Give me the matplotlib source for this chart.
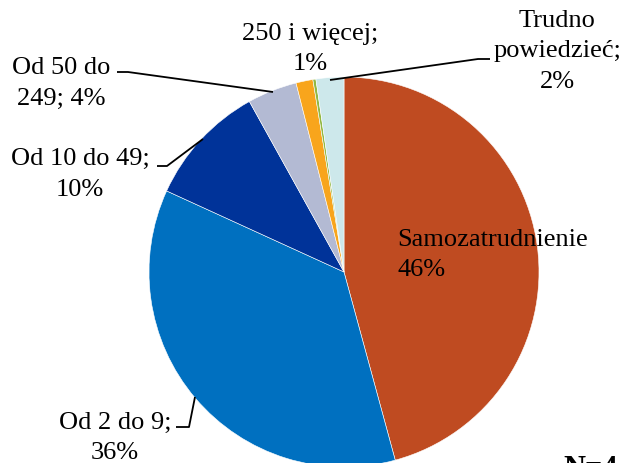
import matplotlib
matplotlib.use("Agg")
import matplotlib.pyplot as plt

# ============================================================
# Data
# ============================================================

categories = [
    "Samozatrudnienie",
    "Od 2 do 9",
    "Od 10 do 49",
    "Od 50 do 249",
    "250 i więcej",
    "Inne",
    "Trudno powiedzieć",
]
values = [45.7, 36.0, 10.1, 4.1, 1.4, 0.25, 2.3]
label_texts = [
    "Samozatrudnienie\n46%",
    "Od 2 do 9;\n36%",
    "Od 10 do 49;\n10%",
    "Od 50 do\n249; 4%",
    "250 i więcej;\n1%",
    "",
    "Trudno\npowiedzieć;\n2%",
]
colors = ["#BF4B21", "#0070C0", "#003399", "#B3BAD3", "#F8A51C", "#92B843", "#CDE8EB"]

# ============================================================
# Layout (pixel space, y measured from top)
# ============================================================

W, H = 623, 464
CX, CY, R = 344, 273, 195

# (x, top y, horizontal alignment) per label
label_pos = [
    (397, 229, "left"),
    (115, 412, "center"),
    (80, 148, "center"),
    (61, 57, "center"),
    (310, 23, "center"),
    None,
    (557, 10, "center"),
]

leaders = [
    [(117, 73), (128, 73), (273, 93)],
    [(157, 167), (167, 167), (203, 140)],
    [(176, 428), (189, 428), (195, 398)],
    [(330, 81), (478, 60), (490, 60)],
]


def fy(y):
    return H - y


fig = plt.figure(figsize=(W / 100, H / 100), dpi=100)
ax = fig.add_axes([0, 0, 1, 1])

ax.pie(
    values,
    colors=colors,
    startangle=90,
    counterclock=False,
    center=(CX, fy(CY)),
    radius=R,
    wedgeprops=dict(edgecolor="white", linewidth=0.4),
)

ax.set_xlim(0, W)
ax.set_ylim(0, H)
ax.set_aspect("equal")
ax.axis("off")

for txt, pos in zip(label_texts, label_pos):
    if pos is None:
        continue
    x, y, ha = pos
    ax.text(x, fy(y), txt, ha=ha, va="top", multialignment=ha,
            fontsize=19, family="Liberation Serif", linespacing=1.5,
            color="black")

for pts in leaders:
    xs = [p[0] for p in pts]
    ys = [fy(p[1]) for p in pts]
    ax.plot(xs, ys, color="black", linewidth=1.3, solid_capstyle="butt")

ax.text(563, fy(455), "N=4", ha="left", va="top", fontsize=22,
        fontweight="bold", family="Liberation Serif", color="black")

fig.savefig("out.png", dpi=100)
